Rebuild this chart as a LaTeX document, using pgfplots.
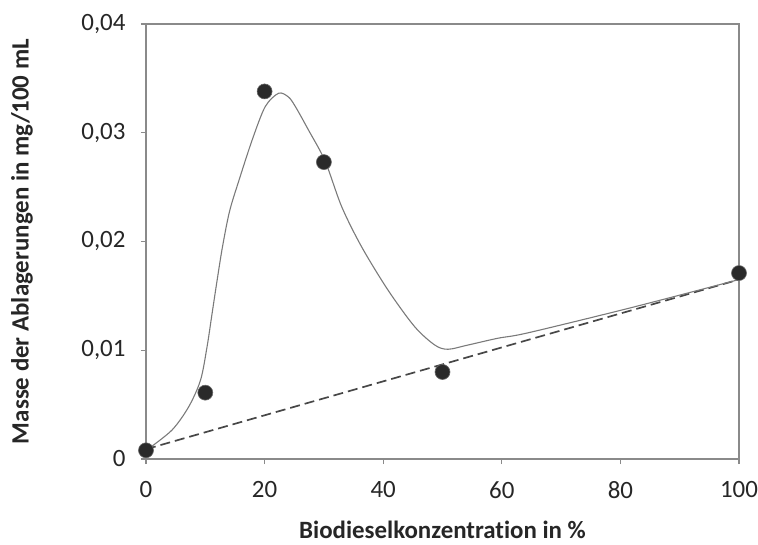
\documentclass[border=0pt]{standalone}
\usepackage{fontspec}
\setmainfont{Carlito}[Ligatures={NoCommon}]
\usepackage{pgfplots}
\pgfplotsset{compat=1.18}
\definecolor{axisgray}{HTML}{8A8A8A}
\definecolor{curvegray}{HTML}{7A7A7A}
\definecolor{dashgray}{HTML}{474747}
\definecolor{dotfill}{HTML}{2A2A2A}
\begin{document}
\begin{tikzpicture}
\begin{axis}[
  name=ax,
  scale only axis,
  width=593bp, height=435bp,
  xmin=0, xmax=100, ymin=0, ymax=0.04,
  xtick={0,20,40,60,80,100},
  ytick={0,0.01,0.02,0.03,0.04},
  scaled y ticks=false,
  /pgf/number format/.cd, use comma, fixed, precision=2, assume math mode=true,
  /pgfplots/.cd,
  axis line style={axisgray, line width=1.6pt},
  tick style={axisgray, line width=1.2pt},
  tick align=outside,
  major tick length=5bp,
  xtick pos=bottom, ytick pos=left,
  every tick label/.append style={font=\fontsize{25}{30}\selectfont, text=black!85},
  xticklabel style={yshift=-14bp},
  yticklabel style={xshift=-12bp},
  label style={font=\fontsize{25}{30}\selectfont\bfseries, text=black!85},
  xlabel={Biodieselkonzentration in \%},
  ylabel={Masse der Ablagerungen in mg/100 mL},
  xlabel style={at={(axis description cs:0.5,-0.163)}, anchor=center},
  ylabel style={at={(axis description cs:-0.209,0.5)}, anchor=center},
  clip=false,
]
% dashed linear reference
\addplot[dashgray, line width=1.7pt, dash pattern=on 10bp off 5bp] coordinates {(0,0.0009) (100,0.0165)};
% smooth trend curve
\addplot[curvegray, line width=1.1pt, smooth, tension=0.5] coordinates {
 (0.5,0.00098) (4.4,0.00267) (7.2,0.0048) (9.2,0.00726) (10.3,0.01033)
 (11.15,0.0134) (12.0,0.01646) (12.9,0.01952) (14.1,0.0228) (15.7,0.02566)
 (17.9,0.02933) (20.1,0.0324) (22.35,0.03363) (24.0,0.0333) (25.2,0.0324)
 (27.4,0.03025) (30.2,0.0274) (33.0,0.0232) (36.35,0.01952) (40.8,0.01554)
 (45.3,0.01217) (48.7,0.01048) (50.9,0.01009) (54.3,0.01048) (59.3,0.0111)
 (64.4,0.0116) (81.7,0.0139) (100,0.0165)};
% measured points
\addplot[only marks, mark=*, mark size=7.5bp, mark options={fill=dotfill, draw=black!60, line width=0.6pt}] coordinates {
 (0,0.0008) (10,0.0061) (20,0.0338) (30,0.0273) (50,0.0080) (100,0.0171)};
\end{axis}
\pgfresetboundingbox
\path ([xshift=-146bp,yshift=-86bp]ax.south west) rectangle ([xshift=19bp,yshift=24bp]ax.north east);
\end{tikzpicture}
\end{document}
